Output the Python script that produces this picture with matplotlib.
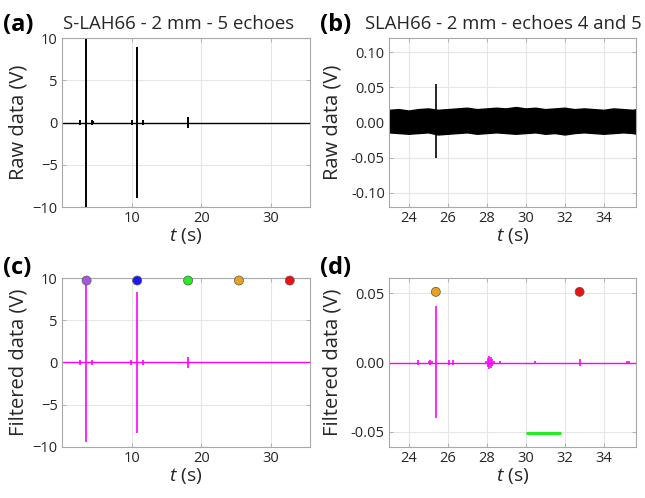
"""Raw and filtered echo signals, S-LAH66 2 mm sample."""
import matplotlib
matplotlib.use("Agg")
import matplotlib.pyplot as plt
from matplotlib.ticker import FormatStrFormatter

plt.rcParams["font.family"] = ["Open Sans", "DejaVu Sans"]
plt.rcParams["mathtext.fontset"] = "custom"
plt.rcParams["mathtext.it"] = "Open Sans:italic"
plt.rcParams["mathtext.rm"] = "Open Sans"

# ---- panel (a): raw data, full record ----
a_span = [0.0, 35.6]
a_echo_t = [2.6, 3.5, 4.3, 4.4, 10.0, 10.8, 11.6, 18.1]
a_echo_hi = [0.25, 10.0, 0.25, 0.2, 0.25, 8.9, 0.25, 0.6]
a_echo_lo = [-0.25, -10.0, -0.25, -0.2, -0.25, -8.9, -0.25, -0.6]

# ---- panel (b): raw data, echoes 4 and 5 ----
b_span = [23.0, 35.66]
b_noise_t = [23.0, 23.5, 24.0, 24.5, 25.0, 25.5, 26.0, 26.5, 27.0, 27.5, 28.0,
             28.5, 29.0, 29.5, 30.0, 30.5, 31.0, 31.5, 32.0, 32.5, 33.0, 33.5,
             34.0, 34.5, 35.0, 35.5, 35.66]
b_noise_hi = [0.018, 0.019, 0.017, 0.019, 0.020, 0.018, 0.019, 0.020, 0.021,
              0.019, 0.020, 0.021, 0.020, 0.022, 0.020, 0.021, 0.019, 0.020,
              0.021, 0.019, 0.020, 0.019, 0.018, 0.020, 0.019, 0.018, 0.019]
b_noise_lo = [-0.014, -0.015, -0.016, -0.015, -0.014, -0.017, -0.016, -0.015,
              -0.014, -0.016, -0.015, -0.014, -0.015, -0.016, -0.015, -0.014,
              -0.016, -0.015, -0.017, -0.015, -0.014, -0.015, -0.016, -0.015,
              -0.014, -0.015, -0.016]
b_spike_t = [25.4]
b_spike_hi = [0.055]
b_spike_lo = [-0.050]

# ---- panel (c): filtered data, full record ----
c_echo_t = [2.57, 3.5, 4.25, 9.9, 10.8, 11.6, 18.1]
c_echo_hi = [0.25, 9.5, 0.25, 0.25, 8.4, 0.25, 0.6]
c_echo_lo = [-0.25, -9.4, -0.25, -0.25, -8.4, -0.25, -0.6]
c_mark_t = [3.53, 10.8, 18.1, 25.4, 32.7]
c_mark_v = [9.7, 9.7, 9.7, 9.7, 9.7]
mark_colors = ["#a855e0", "#1a1aee", "#22ee22", "#e8a21e", "#ee1111"]

# ---- panel (d): filtered data, echoes 4 and 5 ----
d_echo_t = [24.48, 25.05, 25.12, 25.2, 25.4, 26.1, 26.28, 27.95, 28.08, 28.15,
            28.22, 28.3, 28.4, 28.67, 30.5, 32.78, 35.2, 35.32]
d_echo_hi = [0.0015, 0.001, 0.0015, 0.001, 0.0406, 0.0015, 0.0015, 0.0012,
             0.003, 0.0048, 0.004, 0.0025, 0.001, 0.001, 0.0008, 0.0025, 0.001,
             0.001]
d_echo_lo = [-0.0015, -0.001, -0.0015, -0.001, -0.0403, -0.0015, -0.0015,
             -0.0012, -0.003, -0.0048, -0.004, -0.0025, -0.001, -0.001, -0.0008,
             -0.0025, -0.001, -0.001]
d_mark_t = [25.4, 32.77]
d_mark_v = [0.051, 0.051]
d_mark_colors = ["#e8a21e", "#ee1111"]
d_window_t = [30.0, 31.8]
d_window_v = [-0.051, -0.051]

MAGENTA = "#ff00ff"
TEXT = "#262626"
EDGE = "#a8a8a8"


def style(ax, xlim, ylim, xticks, yticks, ylabel, fmt=None):
    ax.set_xlim(xlim)
    ax.set_ylim(ylim)
    ax.set_xticks(xticks)
    ax.set_yticks(yticks)
    if fmt:
        ax.yaxis.set_major_formatter(FormatStrFormatter(fmt))
    ax.grid(True, color="#e6e6e6", linewidth=0.8)
    ax.set_axisbelow(True)
    for s in ax.spines.values():
        s.set_color(EDGE)
        s.set_linewidth(0.8)
    ax.tick_params(direction="in", length=3, width=0.6, color=EDGE,
                   labelsize=10.5, labelcolor=TEXT, top=True, right=True, pad=3)
    ax.set_xlabel("$t$ (s)", fontsize=14, color=TEXT, labelpad=0)
    ax.set_ylabel(ylabel, fontsize=14.5, color=TEXT,
                  labelpad=3 if fmt is None else 6)


fig = plt.figure(figsize=(6.45, 4.98), dpi=100)
H = 498.0
W = 645.0


def axes_at(left, top, right, bottom):
    return fig.add_axes([left / W, 1 - bottom / H, (right - left) / W, (bottom - top) / H])


ax_a = axes_at(62, 38, 310, 207)
ax_b = axes_at(389, 38, 636, 207)
ax_c = axes_at(62, 278, 310, 447)
ax_d = axes_at(389, 278, 636, 447)

# (a)
ax_a.plot(a_span, [0, 0], color="black", lw=1.0)
ax_a.vlines(a_echo_t, a_echo_lo, a_echo_hi, color="black", lw=1.4)
style(ax_a, a_span, [-10, 10], [10, 20, 30], [-10, -5, 0, 5, 10], "Raw data (V)")

# (b)
ax_b.fill_between(b_noise_t, b_noise_lo, b_noise_hi, color="black", lw=1.0)
ax_b.vlines(b_spike_t, b_spike_lo, b_spike_hi, color="black", lw=1.2)
style(ax_b, b_span, [-0.12, 0.12], [24, 26, 28, 30, 32, 34],
      [-0.10, -0.05, 0.0, 0.05, 0.10], "Raw data (V)", fmt="%.2f")

# (c)
ax_c.plot(a_span, [0, 0], color=MAGENTA, lw=1.0)
ax_c.vlines(c_echo_t, c_echo_lo, c_echo_hi, color=MAGENTA, lw=1.2)
ax_c.scatter(c_mark_t, c_mark_v, s=42, c=mark_colors, edgecolors="#555555",
             linewidths=0.5, zorder=5, clip_on=False)
style(ax_c, a_span, [-10, 10], [10, 20, 30], [-10, -5, 0, 5, 10], "Filtered data (V)")

# (d)
ax_d.plot(b_span, [0, 0], color=MAGENTA, lw=1.0)
ax_d.vlines(d_echo_t, d_echo_lo, d_echo_hi, color=MAGENTA, lw=1.2)
ax_d.plot(d_window_t, d_window_v, color="#22ee22", lw=2.2, solid_capstyle="butt")
ax_d.scatter(d_mark_t, d_mark_v, s=42, c=d_mark_colors, edgecolors="#555555",
             linewidths=0.5, zorder=5)
style(ax_d, b_span, [-0.061, 0.061], [24, 26, 28, 30, 32, 34],
      [-0.05, 0.0, 0.05], "Filtered data (V)", fmt="%.2f")

# titles and panel letters
fig.text(63 / W, 1 - 29 / H, "S-LAH66 - 2 mm - 5 echoes", fontsize=13.4, color=TEXT)
fig.text(365 / W, 1 - 29 / H, "SLAH66 - 2 mm - echoes 4 and 5", fontsize=13.3, color=TEXT)
for x, y, s in [(3, 31, "(a)"), (320, 31, "(b)"), (3, 274, "(c)"), (320, 274, "(d)")]:
    fig.text(x / W, 1 - y / H, s, fontsize=17, fontweight="bold", color="black")

fig.savefig("out.png", dpi=100)
